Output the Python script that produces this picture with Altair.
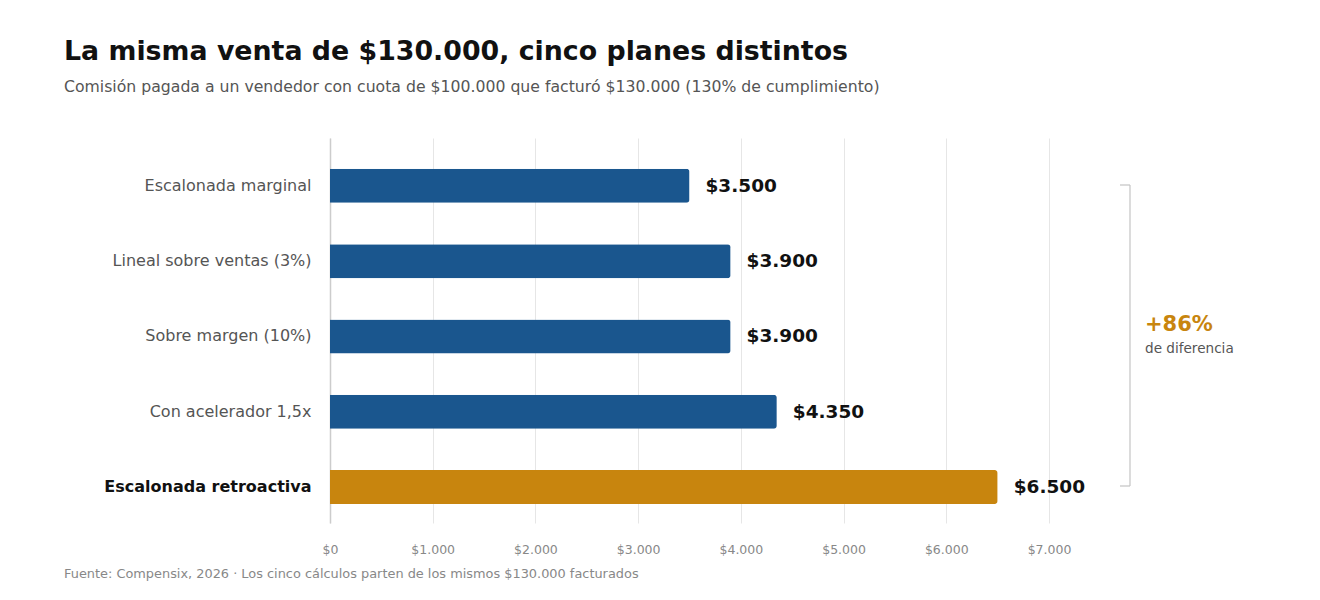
import altair as alt
import pandas as pd

planes = ["Escalonada marginal", "Lineal sobre ventas (3%)", "Sobre margen (10%)",
          "Con acelerador 1,5x", "Escalonada retroactiva"]
comision = [3500, 3900, 3900, 4350, 6500]
destacado = [False, False, False, False, True]
ticks = [0, 1000, 2000, 3000, 4000, 5000, 6000, 7000]

df = pd.DataFrame({"plan": planes, "comision": comision, "destacado": destacado})

W, H = 719, 385
FONT = "DejaVu Sans"
BLUE = "#1a568e"
GOLD = "#c8850e"

y_enc = alt.Y("plan:N", sort=planes, title=None,
              scale=alt.Scale(paddingInner=0.548, paddingOuter=0.33, align=0.62),
              axis=alt.Axis(
                  ticks=False, domain=True, domainColor="#cccccc", domainWidth=1.5,
                  labelFontSize=16, labelPadding=19, labelFont=FONT, labelLimit=400,
                  labelColor={"condition": {"test": "datum.value === 'Escalonada retroactiva'", "value": "#111111"}, "value": "#555555"},
                  labelFontWeight={"condition": {"test": "datum.value === 'Escalonada retroactiva'", "value": "bold"}, "value": "normal"},
                  grid=False))

x_enc = alt.X("comision:Q", title=None,
              scale=alt.Scale(domain=[0, 7000], nice=False),
              axis=alt.Axis(values=ticks, domain=False, ticks=False, grid=True,
                            gridColor="#e6e6e6", gridWidth=1, labelFlush=False,
                            labelFontSize=12.5, labelColor="#888888", labelFont=FONT,
                            labelPadding=20,
                            labelExpr="'$' + replace(format(datum.value, ','), ',', '.')"))

base = alt.Chart(df)

bars = base.mark_bar(cornerRadiusEnd=3, height={"band": 1}).encode(
    x=x_enc, y=y_enc,
    color=alt.Color("destacado:N", scale=alt.Scale(domain=[False, True], range=[BLUE, GOLD]), legend=None),
)

labels = base.transform_calculate(
    etiqueta="'$' + replace(format(datum.comision, ','), ',', '.')"
).mark_text(align="left", baseline="middle", dx=16, fontSize=18.5, fontWeight="bold",
            font=FONT, color="#111111").encode(
    x="comision:Q", y=alt.Y("plan:N", sort=planes), text="etiqueta:N")

# bracket annotation
bx = 800
one = pd.DataFrame({"a": [0]})
bracket = alt.Chart(one).mark_rule(color="#c4c4c4", strokeWidth=1.2).encode(
    x=alt.value(bx), y=alt.value(47), y2=alt.value(348))
bracket_top = alt.Chart(one).mark_rule(color="#c4c4c4", strokeWidth=1.2).encode(
    x=alt.value(bx - 10), x2=alt.value(bx), y=alt.value(47))
bracket_bot = alt.Chart(one).mark_rule(color="#c4c4c4", strokeWidth=1.2).encode(
    x=alt.value(bx - 10), x2=alt.value(bx), y=alt.value(348))

pct = alt.Chart(pd.DataFrame({"t": ["+86%"]})).mark_text(
    align="left", baseline="middle", fontSize=21, fontWeight="bold", color=GOLD, font=FONT).encode(
    x=alt.value(815), y=alt.value(187), text="t:N")
dif = alt.Chart(pd.DataFrame({"t": ["de diferencia"]})).mark_text(
    align="left", baseline="middle", fontSize=13.6, color="#555555", font=FONT).encode(
    x=alt.value(815), y=alt.value(211), text="t:N")

footer = alt.Chart(pd.DataFrame({"t": ["Fuente: Compensix, 2026 · Los cinco cálculos parten de los mismos $130.000 facturados"]})).mark_text(
    align="left", baseline="middle", fontSize=12.9, color="#888888", font=FONT).encode(
    x=alt.value(-266), y=alt.value(436), text="t:N")

chart = alt.layer(bars, labels, bracket, bracket_top, bracket_bot, pct, dif, footer).properties(
    width=W, height=H,
    background="white",
    autosize=alt.AutoSizeParams(type="none"),
    padding={"left": 322, "top": 130, "right": 260, "bottom": 60},
    title=alt.TitleParams(
        text="La misma venta de $130.000, cinco planes distintos",
        subtitle="Comisión pagada a un vendedor con cuota de $100.000 que facturó $130.000 (130% de cumplimiento)",
        anchor="start", frame="group", dx=-266, offset=43,
        font=FONT, fontSize=26.8, fontWeight="bold", color="#111111",
        subtitleFont=FONT, subtitleFontSize=15.7, subtitleColor="#555555", subtitlePadding=15,
    ),
).configure_view(strokeWidth=0, stroke="transparent")

chart.save("out.html", embed_options={"renderer": "svg", "actions": False})
